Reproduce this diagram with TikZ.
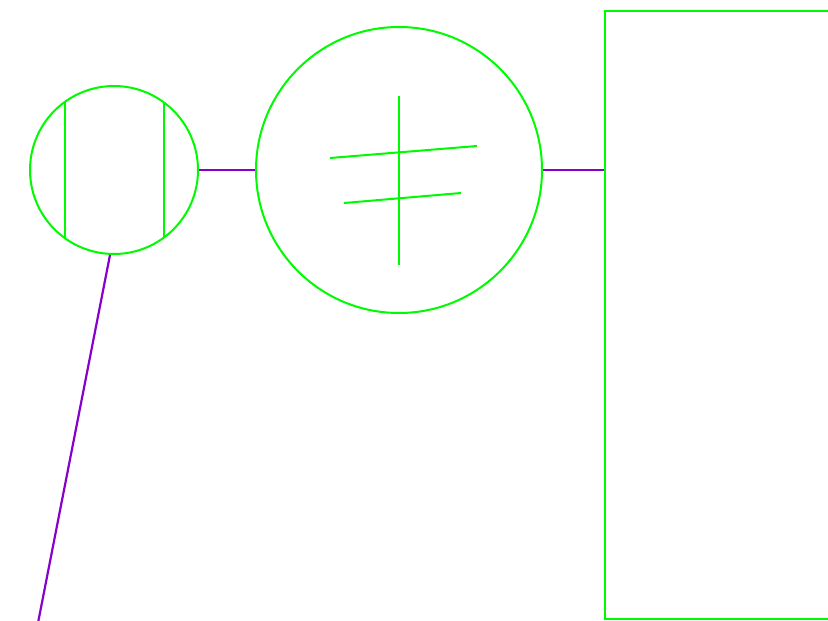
\documentclass[tikz,border=0pt]{standalone}
\usepackage{tikz}
\usetikzlibrary{positioning}
\definecolor{lens_green}{RGB}{0,250,0}
\definecolor{link_purple}{RGB}{136,0,204}
\tikzset{
    lens/.style={
        circle, draw=lens_green, line width=2pt, inner sep=0pt
    },
    panel/.style={
        rectangle, draw=lens_green, line width=2pt, inner sep=0pt
    },
    stroke/.style={
        draw=lens_green, line width=2pt
    },
    link/.style={
        draw=link_purple, line width=2.2pt
    }
}
\begin{document}
\begin{tikzpicture}[x=1pt, y=-1pt]

        \useasboundingbox (0,0) rectangle (828,621);

        % Lentes
        \node[lens, minimum size=168pt] (small) at (114,170) {};
        \node[lens, minimum size=286pt] (big) at (399,170) {};

        % Panel derecho
        \node[panel, minimum width=240pt, minimum height=608pt, anchor=north west]
            (screen) at (604,10) {};

        % Cuerdas de la lente pequena
        \draw[stroke] (65,102) -- (65,238);
        \draw[stroke] (164,103) -- (164,237);

        % Marca de la lente grande
        \draw[stroke] (399,96) -- (399,265);
        \draw[stroke] (330,158) -- (477,146);
        \draw[stroke] (344,203) -- (461,193);

        % Conexiones
        \coordinate (tail) at (37,628);
        \draw[link] (small.east) -- (big.west);
        \draw[link] (big.east) -- (screen.west |- big.east);
        \draw[link] (small.south) ++(-4,0) -- (tail);

    \end{tikzpicture}
\end{document}
